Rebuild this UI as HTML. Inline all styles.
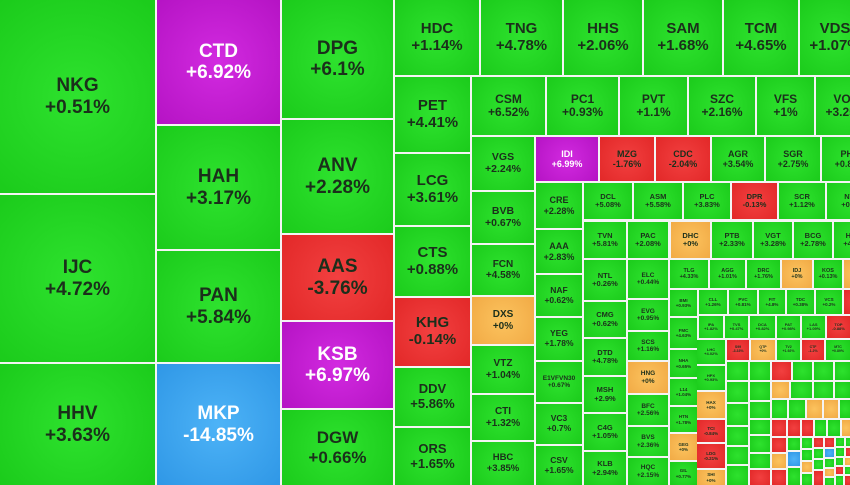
<!DOCTYPE html>
<html><head><meta charset="utf-8"><style>
html,body{margin:0;padding:0;}
body{width:850px;height:485px;position:relative;overflow:hidden;background:#f4f4f4;font-family:"Liberation Sans",Arial,sans-serif;}
.c{position:absolute;display:flex;flex-direction:column;align-items:center;justify-content:center;font-weight:bold;color:#1b2f1b;line-height:1.12;text-align:center;overflow:hidden;white-space:nowrap;}
.g{background:radial-gradient(circle,#2ee22e 0%,#1bcb1b 100%);}
.r{background:radial-gradient(circle,#f24040 0%,#e22828 100%);}
.p{background:radial-gradient(circle,#d22ae0 0%,#b513c4 100%);color:#fff;}
.b{background:radial-gradient(circle,#4db3f7 0%,#2f97e6 100%);color:#fff;}
.o{background:radial-gradient(circle,#fcc35e 0%,#f1aa45 100%);}
</style></head><body>
<div class="c g" style="left:0;top:0;width:155px;height:193px;font-size:19px">NKG<br>+0.51%</div>
<div class="c g" style="left:0;top:195px;width:155px;height:167px;font-size:19px">IJC<br>+4.72%</div>
<div class="c g" style="left:0;top:364px;width:155px;height:121px;font-size:19px">HHV<br>+3.63%</div>
<div class="c p" style="left:157px;top:0;width:123px;height:124px;font-size:19px">CTD<br>+6.92%</div>
<div class="c g" style="left:157px;top:126px;width:123px;height:123px;font-size:19px">HAH<br>+3.17%</div>
<div class="c g" style="left:157px;top:251px;width:123px;height:111px;font-size:19px">PAN<br>+5.84%</div>
<div class="c b" style="left:157px;top:364px;width:123px;height:121px;font-size:19px">MKP<br>-14.85%</div>
<div class="c g" style="left:282px;top:0;width:111px;height:118px;font-size:19px">DPG<br>+6.1%</div>
<div class="c g" style="left:282px;top:120px;width:111px;height:113px;font-size:19px">ANV<br>+2.28%</div>
<div class="c r" style="left:282px;top:235px;width:111px;height:85px;font-size:19px">AAS<br>-3.76%</div>
<div class="c p" style="left:282px;top:322px;width:111px;height:86px;font-size:19px">KSB<br>+6.97%</div>
<div class="c g" style="left:282px;top:410px;width:111px;height:75px;font-size:17px">DGW<br>+0.66%</div>

<div class="c g" style="left:395px;top:0;width:84px;height:75px;font-size:15px">HDC<br>+1.14%</div>
<div class="c g" style="left:481px;top:0;width:81px;height:75px;font-size:15px">TNG<br>+4.78%</div>
<div class="c g" style="left:564px;top:0;width:78px;height:75px;font-size:15px">HHS<br>+2.06%</div>
<div class="c g" style="left:644px;top:0;width:78px;height:75px;font-size:15px">SAM<br>+1.68%</div>
<div class="c g" style="left:724px;top:0;width:74px;height:75px;font-size:15px">TCM<br>+4.65%</div>
<div class="c g" style="left:800px;top:0;width:70px;height:75px;font-size:15px">VDS<br>+1.07%</div>

<div class="c g" style="left:395px;top:77px;width:75px;height:75px;font-size:15px">PET<br>+4.41%</div>
<div class="c g" style="left:472px;top:77px;width:73px;height:58px;font-size:12px">CSM<br>+6.52%</div>
<div class="c g" style="left:547px;top:77px;width:71px;height:58px;font-size:12px">PC1<br>+0.93%</div>
<div class="c g" style="left:620px;top:77px;width:67px;height:58px;font-size:12px">PVT<br>+1.1%</div>
<div class="c g" style="left:689px;top:77px;width:66px;height:58px;font-size:12px">SZC<br>+2.16%</div>
<div class="c g" style="left:757px;top:77px;width:57px;height:58px;font-size:12px">VFS<br>+1%</div>
<div class="c g" style="left:816px;top:77px;width:60px;height:58px;font-size:12px">VOS<br>+3.25%</div>

<div class="c g" style="left:395px;top:154px;width:75px;height:71px;font-size:15px">LCG<br>+3.61%</div>
<div class="c g" style="left:395px;top:227px;width:75px;height:69px;font-size:15px">CTS<br>+0.88%</div>
<div class="c r" style="left:395px;top:298px;width:75px;height:68px;font-size:15px">KHG<br>-0.14%</div>
<div class="c g" style="left:395px;top:368px;width:75px;height:58px;font-size:13px">DDV<br>+5.86%</div>
<div class="c g" style="left:395px;top:428px;width:75px;height:57px;font-size:13px">ORS<br>+1.65%</div>

<div class="c g" style="left:472px;top:137px;width:62px;height:53px;font-size:10.5px">VGS<br>+2.24%</div>
<div class="c g" style="left:472px;top:192px;width:62px;height:51px;font-size:10.5px">BVB<br>+0.67%</div>
<div class="c g" style="left:472px;top:245px;width:62px;height:50px;font-size:10px">FCN<br>+4.58%</div>
<div class="c o" style="left:472px;top:297px;width:62px;height:47px;font-size:10px">DXS<br>+0%</div>
<div class="c g" style="left:472px;top:346px;width:62px;height:47px;font-size:10px">VTZ<br>+1.04%</div>
<div class="c g" style="left:472px;top:395px;width:62px;height:45px;font-size:10px">CTI<br>+1.32%</div>
<div class="c g" style="left:472px;top:442px;width:62px;height:43px;font-size:9.5px">HBC<br>+3.85%</div>

<div class="c p" style="left:536px;top:137px;width:62px;height:44px;font-size:9px">IDI<br>+6.99%</div>
<div class="c r" style="left:600px;top:137px;width:54px;height:44px;font-size:9px">MZG<br>-1.76%</div>
<div class="c r" style="left:656px;top:137px;width:54px;height:44px;font-size:9px">CDC<br>-2.04%</div>
<div class="c g" style="left:712px;top:137px;width:52px;height:44px;font-size:9px">AGR<br>+3.54%</div>
<div class="c g" style="left:766px;top:137px;width:54px;height:44px;font-size:9px">SGR<br>+2.75%</div>
<div class="c g" style="left:822px;top:137px;width:56px;height:44px;font-size:9px">PHR<br>+0.86%</div>

<div class="c g" style="left:536px;top:183px;width:46px;height:45px;font-size:9px">CRE<br>+2.28%</div>
<div class="c g" style="left:536px;top:230px;width:46px;height:43px;font-size:9px">AAA<br>+2.83%</div>
<div class="c g" style="left:536px;top:275px;width:46px;height:41px;font-size:8.5px">NAF<br>+0.62%</div>
<div class="c g" style="left:536px;top:318px;width:46px;height:42px;font-size:8.5px">YEG<br>+1.78%</div>
<div class="c g" style="left:536px;top:362px;width:46px;height:40px;font-size:6.5px">E1VFVN30<br>+0.67%</div>
<div class="c g" style="left:536px;top:404px;width:46px;height:40px;font-size:8.5px">VC3<br>+0.7%</div>
<div class="c g" style="left:536px;top:446px;width:46px;height:39px;font-size:8.5px">CSV<br>+1.65%</div>

<div class="c g" style="left:584px;top:183px;width:48px;height:36px;font-size:7.5px">DCL<br>+5.08%</div>
<div class="c g" style="left:634px;top:183px;width:48px;height:36px;font-size:7.5px">ASM<br>+5.58%</div>
<div class="c g" style="left:684px;top:183px;width:46px;height:36px;font-size:7.5px">PLC<br>+3.83%</div>
<div class="c r" style="left:732px;top:183px;width:45px;height:36px;font-size:7.5px">DPR<br>-0.13%</div>
<div class="c g" style="left:779px;top:183px;width:46px;height:36px;font-size:7.5px">SCR<br>+1.12%</div>
<div class="c g" style="left:827px;top:183px;width:50px;height:36px;font-size:7.5px">NTC<br>+0.9%</div>

<div class="c g" style="left:584px;top:222px;width:42px;height:36px;font-size:7.5px">TVN<br>+5.81%</div>
<div class="c g" style="left:628px;top:222px;width:40px;height:36px;font-size:7.5px">PAC<br>+2.08%</div>
<div class="c o" style="left:671px;top:222px;width:39px;height:36px;font-size:7.5px">DHC<br>+0%</div>
<div class="c g" style="left:712px;top:222px;width:40px;height:36px;font-size:7.5px">PTB<br>+2.33%</div>
<div class="c g" style="left:754px;top:222px;width:38px;height:36px;font-size:7.5px">VGT<br>+3.28%</div>
<div class="c g" style="left:794px;top:222px;width:38px;height:36px;font-size:7.5px">BCG<br>+2.78%</div>
<div class="c g" style="left:834px;top:222px;width:40px;height:36px;font-size:7.5px">HDG<br>+4.4%</div>

<div class="c g" style="left:584px;top:260px;width:42px;height:40px;font-size:7.5px">NTL<br>+0.26%</div>
<div class="c g" style="left:628px;top:260px;width:40px;height:38px;font-size:6.5px">ELC<br>+0.44%</div>
<div class="c g" style="left:670px;top:260px;width:38px;height:28px;font-size:5.5px">TLG<br>+4.33%</div>
<div class="c g" style="left:710px;top:260px;width:35px;height:28px;font-size:5.5px">AGG<br>+1.01%</div>
<div class="c g" style="left:747px;top:260px;width:33px;height:28px;font-size:5.5px">DRC<br>+1.76%</div>
<div class="c o" style="left:782px;top:260px;width:30px;height:28px;font-size:5.5px">IDJ<br>+0%</div>
<div class="c g" style="left:814px;top:260px;width:28px;height:28px;font-size:5.5px">KOS<br>+0.13%</div>
<div class="c o" style="left:844px;top:260px;width:20px;height:28px"></div>

<div class="c g" style="left:584px;top:302px;width:42px;height:35px;font-size:7.5px">CMG<br>+0.62%</div>
<div class="c g" style="left:584px;top:339px;width:42px;height:36px;font-size:7.5px">DTD<br>+4.78%</div>
<div class="c g" style="left:584px;top:377px;width:42px;height:35px;font-size:7.5px">MSH<br>+2.9%</div>
<div class="c g" style="left:584px;top:414px;width:42px;height:36px;font-size:7.5px">C4G<br>+1.05%</div>
<div class="c g" style="left:584px;top:452px;width:42px;height:33px;font-size:7.5px">KLB<br>+2.94%</div>

<div class="c g" style="left:628px;top:300px;width:40px;height:30px;font-size:6.5px">EVG<br>+0.95%</div>
<div class="c g" style="left:628px;top:332px;width:40px;height:28px;font-size:6.5px">SCS<br>+1.16%</div>
<div class="c o" style="left:628px;top:362px;width:40px;height:31px;font-size:6.5px">HNG<br>+0%</div>
<div class="c g" style="left:628px;top:395px;width:40px;height:30px;font-size:6.5px">BFC<br>+2.56%</div>
<div class="c g" style="left:628px;top:427px;width:40px;height:29px;font-size:6.5px">BVS<br>+2.36%</div>
<div class="c g" style="left:628px;top:458px;width:40px;height:27px;font-size:6.5px">HQC<br>+2.15%</div>

<div class="c g" style="left:670px;top:290px;width:27px;height:26px;font-size:4.5px">BMI<br>+0.93%</div>
<div class="c g" style="left:699px;top:290px;width:28px;height:24px;font-size:4.5px">CLL<br>+1.26%</div>
<div class="c g" style="left:729px;top:290px;width:28px;height:24px;font-size:4.5px">PVC<br>+0.81%</div>
<div class="c g" style="left:759px;top:290px;width:26px;height:24px;font-size:4.5px">FIT<br>+4.8%</div>
<div class="c g" style="left:787px;top:290px;width:27px;height:24px;font-size:4.5px">TDC<br>+0.38%</div>
<div class="c g" style="left:816px;top:290px;width:26px;height:24px;font-size:4.5px">VCS<br>+0.2%</div>
<div class="c r" style="left:844px;top:290px;width:20px;height:24px"></div>

<div class="c g" style="left:670px;top:318px;width:27px;height:30px;font-size:4.5px">FMC<br>+4.63%</div>
<div class="c g" style="left:670px;top:350px;width:27px;height:27px;font-size:4.5px">NHA<br>+0.65%</div>
<div class="c g" style="left:670px;top:379px;width:27px;height:26px;font-size:4.5px">L14<br>+1.04%</div>
<div class="c g" style="left:670px;top:407px;width:27px;height:25px;font-size:4.5px">HTN<br>+1.78%</div>
<div class="c o" style="left:670px;top:434px;width:27px;height:26px;font-size:4.5px">GEG<br>+0%</div>
<div class="c g" style="left:670px;top:462px;width:27px;height:23px;font-size:4.5px">GIL<br>+0.77%</div>

<div class="c g" style="left:699px;top:316px;width:24px;height:22px;font-size:4px">IPA<br>+1.82%</div>
<div class="c g" style="left:725px;top:316px;width:23px;height:22px;font-size:4px">TVS<br>+0.47%</div>
<div class="c g" style="left:750px;top:316px;width:25px;height:22px;font-size:4px">DCA<br>+0.82%</div>
<div class="c g" style="left:777px;top:316px;width:23px;height:22px;font-size:4px">PAT<br>+0.98%</div>
<div class="c g" style="left:802px;top:316px;width:23px;height:22px;font-size:4px">LAS<br>+1.09%</div>
<div class="c r" style="left:827px;top:316px;width:23px;height:22px;font-size:4px">TOP<br>-0.88%</div>

<div class="c g" style="left:697px;top:340px;width:28px;height:24px;font-size:4px">LHC<br>+4.02%</div>
<div class="c g" style="left:697px;top:366px;width:28px;height:24px;font-size:4px">HPX<br>+0.93%</div>
<div class="c o" style="left:697px;top:392px;width:28px;height:26px;font-size:4.5px">HAX<br>+0%</div>
<div class="c r" style="left:697px;top:420px;width:28px;height:22px;font-size:4.5px">TCI<br>-0.84%</div>
<div class="c r" style="left:697px;top:444px;width:28px;height:24px;font-size:4.5px">LDG<br>-0.21%</div>
<div class="c o" style="left:697px;top:470px;width:28px;height:15px;font-size:4.5px">SHI<br>+0%</div>

<div class="c r" style="left:727px;top:340px;width:22px;height:20px;font-size:3.5px">S99<br>-3.33%</div>
<div class="c o" style="left:751px;top:340px;width:24px;height:20px;font-size:3.5px">QTP<br>+0%</div>
<div class="c g" style="left:777px;top:340px;width:23px;height:20px;font-size:3.5px">TV2<br>+1.92%</div>
<div class="c r" style="left:802px;top:340px;width:22px;height:20px;font-size:3.5px">CTF<br>-1.2%</div>
<div class="c g" style="left:826px;top:340px;width:24px;height:20px;font-size:3.5px">MTC<br>+0.89%</div>

<div class="c g" style="left:727px;top:362px;width:21px;height:18px"></div>
<div class="c g" style="left:727px;top:382px;width:21px;height:20px"></div>
<div class="c g" style="left:727px;top:404px;width:21px;height:21px"></div>
<div class="c g" style="left:727px;top:427px;width:21px;height:18px"></div>
<div class="c g" style="left:727px;top:447px;width:21px;height:17px"></div>
<div class="c g" style="left:727px;top:466px;width:21px;height:19px"></div>

<div class="c g" style="left:750px;top:362px;width:20px;height:18px"></div>
<div class="c g" style="left:750px;top:382px;width:20px;height:18px"></div>
<div class="c g" style="left:750px;top:402px;width:20px;height:16px"></div>
<div class="c g" style="left:750px;top:420px;width:20px;height:14px"></div>
<div class="c g" style="left:750px;top:436px;width:20px;height:16px"></div>
<div class="c g" style="left:750px;top:454px;width:20px;height:14px"></div>
<div class="c r" style="left:750px;top:470px;width:20px;height:15px"></div>

<div class="c r" style="left:772px;top:362px;width:19px;height:18px"></div>
<div class="c g" style="left:793px;top:362px;width:19px;height:18px"></div>
<div class="c g" style="left:814px;top:362px;width:19px;height:18px"></div>
<div class="c g" style="left:835px;top:362px;width:15px;height:18px"></div>
<div class="c o" style="left:772px;top:382px;width:17px;height:16px"></div>
<div class="c g" style="left:791px;top:382px;width:21px;height:16px"></div>
<div class="c g" style="left:814px;top:382px;width:19px;height:16px"></div>
<div class="c g" style="left:835px;top:382px;width:15px;height:16px"></div>
<div class="c g" style="left:772px;top:400px;width:15px;height:18px"></div>
<div class="c g" style="left:789px;top:400px;width:16px;height:18px"></div>
<div class="c o" style="left:807px;top:400px;width:15px;height:18px"></div>
<div class="c o" style="left:824px;top:400px;width:14px;height:18px"></div>
<div class="c g" style="left:840px;top:400px;width:10px;height:18px"></div>
<div class="c r" style="left:772px;top:420px;width:14px;height:16px"></div>
<div class="c r" style="left:788px;top:420px;width:12px;height:16px"></div>
<div class="c r" style="left:802px;top:420px;width:11px;height:16px"></div>
<div class="c g" style="left:815px;top:420px;width:11px;height:16px"></div>
<div class="c g" style="left:828px;top:420px;width:12px;height:16px"></div>
<div class="c o" style="left:842px;top:420px;width:8px;height:16px"></div>

<div class="c r" style="left:772px;top:438px;width:14px;height:14px"></div>
<div class="c g" style="left:788px;top:438px;width:12px;height:12px"></div>
<div class="c g" style="left:802px;top:438px;width:10px;height:10px"></div>
<div class="c r" style="left:814px;top:438px;width:9px;height:9px"></div>
<div class="c r" style="left:825px;top:438px;width:9px;height:9px"></div>
<div class="c g" style="left:836px;top:438px;width:8px;height:8px"></div>
<div class="c g" style="left:846px;top:438px;width:6px;height:8px"></div>
<div class="c o" style="left:772px;top:454px;width:14px;height:14px"></div>
<div class="c b" style="left:788px;top:452px;width:12px;height:14px"></div>
<div class="c g" style="left:802px;top:450px;width:10px;height:10px"></div>
<div class="c g" style="left:814px;top:449px;width:9px;height:9px"></div>
<div class="c b" style="left:825px;top:449px;width:9px;height:8px"></div>
<div class="c g" style="left:836px;top:448px;width:8px;height:8px"></div>
<div class="c r" style="left:846px;top:448px;width:6px;height:8px"></div>
<div class="c r" style="left:772px;top:470px;width:14px;height:15px"></div>
<div class="c g" style="left:788px;top:468px;width:12px;height:17px"></div>
<div class="c o" style="left:802px;top:462px;width:10px;height:10px"></div>
<div class="c g" style="left:802px;top:474px;width:10px;height:11px"></div>
<div class="c g" style="left:814px;top:460px;width:9px;height:9px"></div>
<div class="c r" style="left:814px;top:471px;width:9px;height:14px"></div>
<div class="c g" style="left:825px;top:459px;width:9px;height:8px"></div>
<div class="c o" style="left:825px;top:469px;width:9px;height:7px"></div>
<div class="c g" style="left:825px;top:478px;width:9px;height:7px"></div>
<div class="c g" style="left:836px;top:458px;width:7px;height:7px"></div>
<div class="c r" style="left:836px;top:467px;width:7px;height:7px"></div>
<div class="c g" style="left:836px;top:476px;width:7px;height:9px"></div>
<div class="c o" style="left:845px;top:458px;width:7px;height:7px"></div>
<div class="c g" style="left:845px;top:467px;width:7px;height:7px"></div>
<div class="c r" style="left:845px;top:476px;width:7px;height:9px"></div>
</body></html>
